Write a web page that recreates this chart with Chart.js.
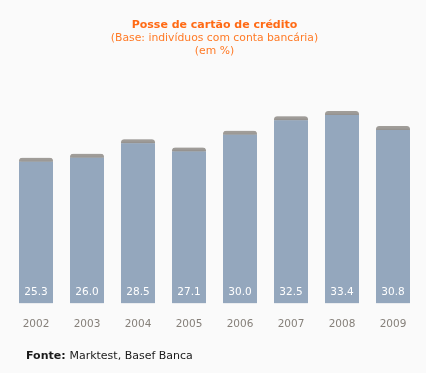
<!DOCTYPE html>
<html>
<head>
<meta charset="utf-8">
<script src="https://cdn.jsdelivr.net/npm/chart.js@4"></script>
<style>
  html, body { margin: 0; padding: 0; background: #fafafa; }
  #wrap { width: 426px; height: 373px; position: relative; }
</style>
</head>
<body>
<div id="wrap"><canvas id="chart" width="426" height="373"></canvas></div>
<script>
const years = ['2002', '2003', '2004', '2005', '2006', '2007', '2008', '2009'];
const posse = [25.3, 26.0, 28.5, 27.1, 30.0, 32.5, 33.4, 30.8];

const FONT = "'DejaVu Sans', Verdana, sans-serif";

// shadow under the bars + white values at the bottom + source line
const barExtras = {
    id: 'barExtras',
    beforeDatasetsDraw(chart) {
        const ctx = chart.ctx;
        ctx.save();
        ctx.shadowColor = 'rgba(0,0,0,0.25)';
        ctx.shadowBlur = 3;
        ctx.shadowOffsetX = 0;
        ctx.shadowOffsetY = 0;
    },
    afterDatasetsDraw(chart) {
        const ctx = chart.ctx;
        ctx.restore();
        const meta = chart.getDatasetMeta(0);
        ctx.save();
        ctx.fillStyle = '#ffffff';
        ctx.font = '10.5px ' + FONT;
        ctx.textAlign = 'center';
        ctx.textBaseline = 'middle';
        meta.data.forEach((bar, i) => {
            ctx.fillText(posse[i].toFixed(1), bar.x, chart.chartArea.bottom - 11);
        });
        ctx.restore();
    },
    afterDraw(chart) {
        const ctx = chart.ctx;
        ctx.save();
        ctx.textBaseline = 'middle';
        ctx.fillStyle = '#1a1a1a';
        ctx.font = 'bold 11px ' + FONT;
        ctx.fillText('Fonte:', 26, 356);
        const w = ctx.measureText('Fonte: ').width;
        ctx.font = '11px ' + FONT;
        ctx.fillText('Marktest, Basef Banca', 26 + w, 356);
        ctx.restore();
    }
};

new Chart(document.getElementById('chart'), {
    type: 'bar',
    data: {
        labels: years,
        datasets: [{
            data: posse,
            backgroundColor: '#94a7bd',
            borderColor: '#a09d99',
            borderWidth: { top: 4, left: 0, right: 0, bottom: 0 },
            borderSkipped: 'bottom',
            borderRadius: { topLeft: 3, topRight: 3, bottomLeft: 0, bottomRight: 0 },
            categoryPercentage: 1,
            barPercentage: 0.667
        }]
    },
    options: {
        responsive: false,
        animation: false,
        layout: { padding: { left: 10.5, right: 7.5, top: 0, bottom: 35 } },
        scales: {
            x: {
                grid: { display: false },
                border: { display: false },
                ticks: { color: '#86807a', font: { family: FONT, size: 10.5 }, padding: 7 }
            },
            y: {
                display: false,
                min: 0,
                max: 40
            }
        },
        plugins: {
            legend: { display: false },
            tooltip: { enabled: false },
            title: {
                display: true,
                text: 'Posse de cartão de crédito',
                color: '#ff6a14',
                font: { family: FONT, size: 11, weight: 'bold', lineHeight: 1.2 },
                padding: { top: 19, bottom: 0 }
            },
            subtitle: {
                display: true,
                text: ['(Base: indivíduos com conta bancária)', '(em %)'],
                color: '#ff7a26',
                font: { family: FONT, size: 10.8, lineHeight: 1.2 },
                padding: { top: 0, bottom: 15 }
            }
        }
    },
    plugins: [barExtras]
});
</script>
</body>
</html>
